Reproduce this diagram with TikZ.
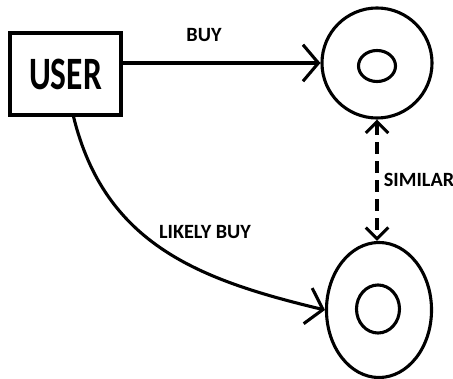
\documentclass[tikz,border=0pt]{standalone}
\usepackage{fontspec}
\setmainfont{Carlito}
\usetikzlibrary{arrows.meta,shapes.geometric}
\begin{document}
\begin{tikzpicture}
  [x=0.025cm,y=-0.025cm,line width=2.2pt,
   barb/.style={-{Straight Barb[length=11pt,width=26pt,line width=2.2pt]}},
   smallbarb/.style={{Straight Barb[length=8pt,width=16pt,line width=2.2pt]}-{Straight Barb[length=8pt,width=16pt,line width=2.2pt]}},
   lbl/.style={font=\fontsize{14.4}{17}\selectfont\bfseries, inner sep=0pt},
   ring/.style={draw, ellipse, inner sep=0pt}]
  \useasboundingbox (0,0) rectangle (453,379);

  \node[draw, minimum width=2.775cm, minimum height=2.05cm, inner sep=0pt] (user) at (65.5,74)
    {\fontsize{33}{40}\selectfont\bfseries\scalebox{0.72}[1]{USER}};

  \node[ring, minimum width=2.75cm, minimum height=2.75cm] (item1) at (377,63) {};
  \node[ring, minimum width=0.925cm, minimum height=0.775cm] (core1) at (377,66) {};
  \node[ring, minimum width=2.625cm, minimum height=3.375cm] (item2) at (379,310) {};
  \node[ring, minimum width=1.075cm, minimum height=1.2cm] (core2) at (378,309) {};

  \node[lbl] (buy) at (204,35) {BUY};
  \node[lbl] (similar) at (419,180) {SIMILAR};
  \node[lbl] (likely) at (205,232) {LIKELY BUY};

  \draw[barb] (user.east |- item1.west) -- (item1.west);
  \draw[smallbarb, dash pattern=on 8.5pt off 5pt] (item1.south) -- (item1.south |- item2.north);
  \draw[barb] ([xshift=0.2cm]user.south) .. controls (105,245) and (200,280) .. (item2.west);
\end{tikzpicture}
\end{document}
